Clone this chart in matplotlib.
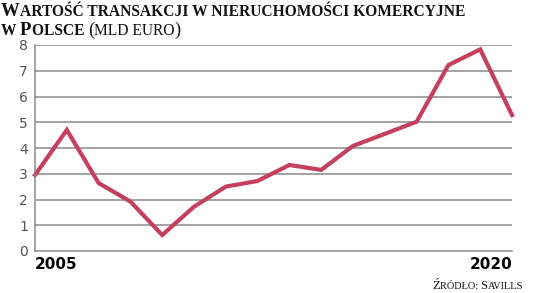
import matplotlib
matplotlib.use("Agg")
import matplotlib.pyplot as plt
from matplotlib.offsetbox import TextArea, HPacker, AnnotationBbox

years = list(range(2005, 2021))
values = [2.95, 4.7, 2.64, 1.92, 0.62, 1.72, 2.5, 2.72, 3.34, 3.15, 4.08, 4.55, 5.02, 7.22, 7.83, 5.28]
y_ticks = [0, 1, 2, 3, 4, 5, 6, 7, 8]
x_labels = ["2005", "2020"]

W, H = 536, 293
RED = "#c4405f"
GRID = "#8a8a8a"
SERIF = "Liberation Serif"
NARROW = "Liberation Sans Narrow"

fig = plt.figure(figsize=(W / 100, H / 100), dpi=100)
ax = fig.add_axes([35 / W, (H - 251) / H, (512 - 35) / W, (251 - 45) / H])

ax.plot(years, values, color=RED, lw=3.0, solid_joinstyle="miter", clip_on=False)
ax.set_xlim(years[0], years[-1])
ax.set_ylim(0, 8)
ax.set_yticks(y_ticks)
ax.set_yticklabels([str(t) for t in y_ticks], color="#555555", fontsize=10, family=NARROW)
ax.tick_params(axis="y", length=0, pad=5)
ax.set_xticks([])
for t in y_ticks[1:]:
    ax.axhline(t, color=GRID, lw=1.1, zorder=0)
for s in ["top", "right"]:
    ax.spines[s].set_visible(False)
for s in ["left", "bottom"]:
    ax.spines[s].set_color(GRID)
    ax.spines[s].set_linewidth(1.1)

# only first and last year are labelled
ax.text(years[0], -0.22, x_labels[0], ha="left", va="top", fontsize=11,
        fontweight="bold", family=NARROW)
ax.text(years[-1], -0.22, x_labels[1], ha="right", va="top", fontsize=11,
        fontweight="bold", family=NARROW)


def caps_box(text, big, small, weight="bold"):
    # fake small caps: capitals stay big, the rest is upper-cased and smaller
    items = []
    chunk = ""
    chunk_big = None
    for ch in text:
        is_big = ch.isupper() or ch in "()"
        if chunk_big is None or is_big == chunk_big:
            chunk += ch
        else:
            items.append((chunk, chunk_big))
            chunk = ch
        chunk_big = is_big
    if chunk:
        items.append((chunk, chunk_big))
    return [TextArea(txt.upper(), textprops=dict(fontsize=big if b else small,
                                                 fontweight=weight, family=SERIF,
                                                 color="#111111"))
            for txt, b in items]


def place(areas, x, y):
    pack = HPacker(children=areas, align="baseline", pad=0, sep=0)
    ab = AnnotationBbox(pack, (x, y), xycoords="figure pixels",
                        box_alignment=(0, 0), frameon=False, pad=0)
    fig.add_artist(ab)


place(caps_box("Wartość transakcji w nieruchomości komercyjne", 13.5, 11.2), 1, H - 20)
place(caps_box("w Polsce ", 13.5, 11.2) + caps_box("(mld euro)", 13.5, 11.2, weight="normal"),
      1, H - 39)
place(caps_box("Źródło: Savills", 9, 7.5, weight="normal"), 432, H - 292)

fig.savefig("out.png", dpi=100)
